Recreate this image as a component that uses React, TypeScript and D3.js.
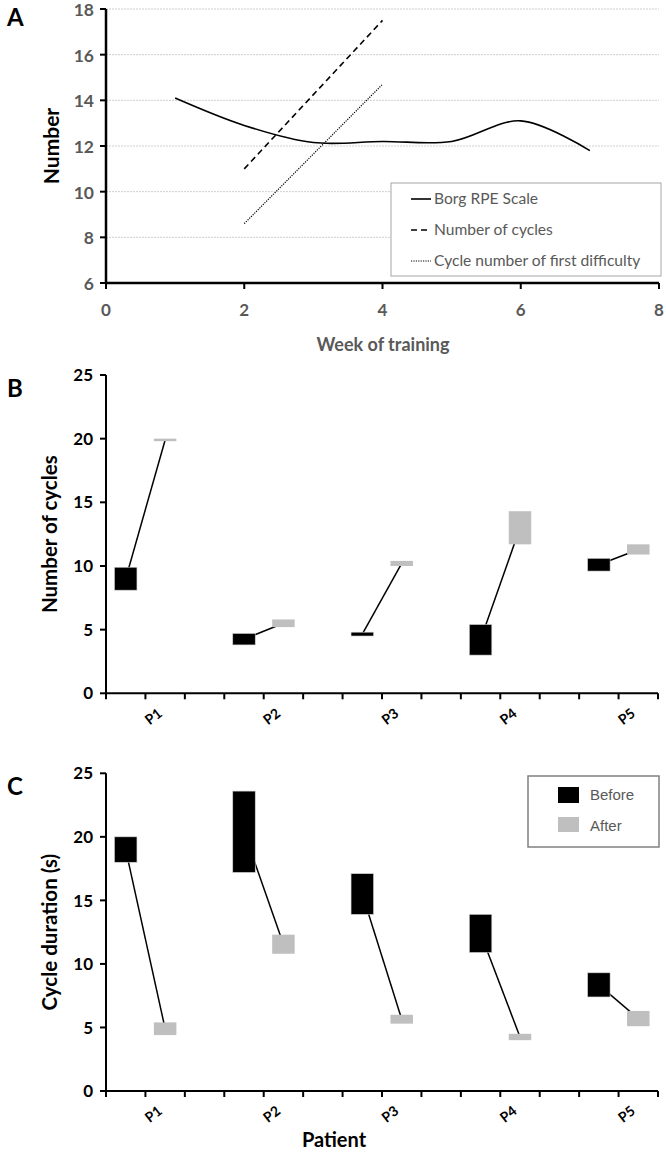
import React from 'react';
import * as d3 from 'd3';

// Panel A
const weeks = [1, 2, 3, 4, 5, 6, 7];
const borgRpe = [14.1, 12.9, 12.15, 12.2, 12.2, 13.1, 11.8];
const cycleWeeks = [2, 4];
const numberOfCycles = [11.0, 17.5];
const firstDifficulty = [8.6, 14.7];
const weekTicks = [0, 2, 4, 6, 8];
const numberTicks = [6, 8, 10, 12, 14, 16, 18];

// Panels B & C
const patients = ['P1', 'P2', 'P3', 'P4', 'P5'];
const cyclesBeforeLow = [8.1, 3.8, 4.5, 3.0, 9.6];
const cyclesBeforeHigh = [9.9, 4.7, 4.8, 5.4, 10.6];
const cyclesAfterLow = [19.8, 5.2, 10.0, 11.7, 10.9];
const cyclesAfterHigh = [20.0, 5.8, 10.4, 14.3, 11.7];
const durationBeforeLow = [18.0, 17.2, 13.9, 10.9, 7.4];
const durationBeforeHigh = [20.0, 23.6, 17.1, 13.9, 9.3];
const durationAfterLow = [4.4, 10.8, 5.3, 4.0, 5.1];
const durationAfterHigh = [5.4, 12.3, 6.0, 4.5, 6.3];
const countTicks = [0, 5, 10, 15, 20, 25];

const BLACK = '#000';
const GREY = '#bfbfbf';
const TEXT_GREY = '#595959';
const FONT = 'Lato, "Open Sans", sans-serif';

const PanelA = () => {
  const x = d3.scaleLinear().domain([0, 8]).range([106, 659]);
  const y = d3.scaleLinear().domain([6, 18]).range([283, 9]);
  const curve = d3.curveCatmullRom.alpha(0.5);
  const borgLine = d3.line<number>().x((_, i) => x(weeks[i])).y((d) => y(d)).curve(curve);
  const cycLine = d3.line<number>().x((_, i) => x(cycleWeeks[i])).y((d) => y(d));
  const legend = [
    { label: 'Borg RPE Scale', dash: null, yy: 199 },
    { label: 'Number of cycles', dash: '6,4', yy: 230 },
    { label: 'Cycle number of first difficulty', dash: '1.2,1.2', yy: 261 },
  ];
  return (
    <g>
      <text x={7} y={26} fontFamily={FONT} fontWeight="bold" fontSize={24}>A</text>
      {numberTicks.slice(1).map((t) => (
        <line key={t} x1={x(0)} x2={x(8)} y1={y(t)} y2={y(t)} stroke="#cfcfcf" strokeDasharray="2,1" />
      ))}
      <path d={borgLine(borgRpe) || ''} fill="none" stroke={BLACK} strokeWidth={1.6} />
      <path d={cycLine(numberOfCycles) || ''} fill="none" stroke={BLACK} strokeWidth={1.6} strokeDasharray="6,4" />
      <path d={cycLine(firstDifficulty) || ''} fill="none" stroke={BLACK} strokeWidth={1.2} strokeDasharray="1.2,1.2" />
      <line x1={x(0)} x2={x(0)} y1={y(18)} y2={y(6)} stroke={BLACK} strokeWidth={2.5} />
      <line x1={x(0)} x2={x(8)} y1={y(6)} y2={y(6)} stroke={BLACK} strokeWidth={2.5} />
      {numberTicks.map((t) => (
        <g key={t}>
          <line x1={x(0) - 6} x2={x(0)} y1={y(t)} y2={y(t)} stroke={BLACK} strokeWidth={2} />
          <text x={94} y={y(t)} dy="0.4em" textAnchor="end" fontFamily={FONT} fontWeight="bold" fontSize={17.5} fill={TEXT_GREY}>{t}</text>
        </g>
      ))}
      {weekTicks.map((t) => (
        <g key={t}>
          <line x1={x(t)} x2={x(t)} y1={y(6)} y2={y(6) + 6} stroke={BLACK} strokeWidth={2} />
          <text x={x(t)} y={316} textAnchor="middle" fontFamily={FONT} fontWeight="bold" fontSize={17} fill={TEXT_GREY}>{t}</text>
        </g>
      ))}
      <text x={383} y={351} textAnchor="middle" fontFamily={FONT} fontWeight="bold" fontSize={18} fill={TEXT_GREY}>Week of training</text>
      <text transform="translate(59,146) rotate(-90)" textAnchor="middle" fontFamily={FONT} fontWeight="bold" fontSize={21} fill={BLACK}>Number</text>
      <rect x={391} y={183} width={270} height={93} fill="#fff" stroke="#a6a6a6" strokeWidth={1} />
      {legend.map((l) => (
        <g key={l.label}>
          <line x1={411} x2={431} y1={l.yy} y2={l.yy} stroke={BLACK} strokeWidth={l.dash === '1.2,1.2' ? 1.2 : 1.6} strokeDasharray={l.dash || undefined} />
          <text x={434} y={l.yy} dy="0.35em" fontFamily={FONT} fontSize={15.6} fill={TEXT_GREY}>{l.label}</text>
        </g>
      ))}
    </g>
  );
};

type RangePanelProps = {
  letter: string;
  top: number;
  bottom: number;
  title: string;
  beforeLow: number[];
  beforeHigh: number[];
  afterLow: number[];
  afterHigh: number[];
  showLegend?: boolean;
  xTitle?: string;
};

const RangePanel = ({ letter, top, bottom, title, beforeLow, beforeHigh, afterLow, afterHigh, showLegend, xTitle }: RangePanelProps) => {
  const x = d3.scaleLinear().domain([0, 14]).range([106, 658]);
  const y = d3.scaleLinear().domain([0, 25]).range([bottom, top]);
  const pos = (i: number) => 1 + 3 * i;
  const bw = x(0.57) - x(0);
  const mid = (lo: number[], hi: number[], i: number) => (lo[i] + hi[i]) / 2;
  return (
    <g>
      <text x={7} y={top + 22} fontFamily={FONT} fontWeight="bold" fontSize={24}>{letter}</text>
      {patients.map((p, i) => (
        <line key={p} x1={x(pos(i) - 0.5)} x2={x(pos(i) + 0.5)}
          y1={y(mid(beforeLow, beforeHigh, i))} y2={y(mid(afterLow, afterHigh, i))} stroke={BLACK} strokeWidth={1.5} />
      ))}
      {patients.map((p, i) => (
        <g key={p}>
          <rect x={x(pos(i) - 0.5) - bw / 2} width={bw} y={y(beforeHigh[i])} height={y(beforeLow[i]) - y(beforeHigh[i])} fill={BLACK} stroke="#d0d0d0" strokeWidth={0.6} />
          <rect x={x(pos(i) + 0.5) - bw / 2} width={bw} y={y(afterHigh[i])} height={y(afterLow[i]) - y(afterHigh[i])} fill={GREY} />
        </g>
      ))}
      <line x1={x(0)} x2={x(0)} y1={y(25)} y2={y(0)} stroke={BLACK} strokeWidth={2} />
      <line x1={x(0)} x2={x(14)} y1={y(0)} y2={y(0)} stroke={BLACK} strokeWidth={2} />
      {countTicks.map((t) => (
        <g key={t}>
          <line x1={x(0) - 6} x2={x(0)} y1={y(t)} y2={y(t)} stroke={BLACK} strokeWidth={2} />
          <text x={93} y={y(t)} dy="0.36em" textAnchor="end" fontFamily={FONT} fontWeight="bold" fontSize={17} fill={BLACK}>{t}</text>
        </g>
      ))}
      {d3.range(0, 15).map((t) => (
        <line key={t} x1={x(t)} x2={x(t)} y1={y(0)} y2={y(0) + 6} stroke={BLACK} strokeWidth={2} />
      ))}
      {patients.map((p, i) => (
        <text key={p} transform={`translate(${x(pos(i)) + 11},${y(0) + 27}) rotate(-38)`} textAnchor="middle"
          fontFamily={FONT} fontWeight="bold" fontSize={14} fill={BLACK}>{p}</text>
      ))}
      <text transform={`translate(57,${(top + bottom) / 2}) rotate(-90)`} textAnchor="middle" fontFamily={FONT} fontWeight="bold" fontSize={20.5} fill={BLACK}>{title}</text>
      {xTitle && (
        <text x={334} y={1147} textAnchor="middle" fontFamily={FONT} fontWeight="bold" fontSize={20} fill={BLACK}>{xTitle}</text>
      )}
      {showLegend && (
        <g>
          <rect x={528} y={776} width={131} height={71} fill="#fff" stroke="#808080" strokeWidth={1.5} />
          <rect x={558} y={787} width={21} height={16} fill={BLACK} />
          <text x={590} y={795} dy="0.35em" fontFamily='"Liberation Sans", Arial, sans-serif' fontSize={15} fill={TEXT_GREY}>Before</text>
          <rect x={558} y={817} width={21} height={15} fill={GREY} />
          <text x={590} y={826} dy="0.35em" fontFamily='"Liberation Sans", Arial, sans-serif' fontSize={15} fill={TEXT_GREY}>After</text>
        </g>
      )}
    </g>
  );
};

export default function App() {
  return (
    <svg width={666} height={1158} style={{ position: 'absolute', left: 0, top: 0, background: '#fff' }}>
      <PanelA />
      <RangePanel letter="B" top={375} bottom={693.3} title="Number of cycles"
        beforeLow={cyclesBeforeLow} beforeHigh={cyclesBeforeHigh} afterLow={cyclesAfterLow} afterHigh={cyclesAfterHigh} />
      <RangePanel letter="C" top={773.3} bottom={1091} title="Cycle duration (s)"
        beforeLow={durationBeforeLow} beforeHigh={durationBeforeHigh} afterLow={durationAfterLow} afterHigh={durationAfterHigh}
        showLegend xTitle="Patient" />
    </svg>
  );
}
